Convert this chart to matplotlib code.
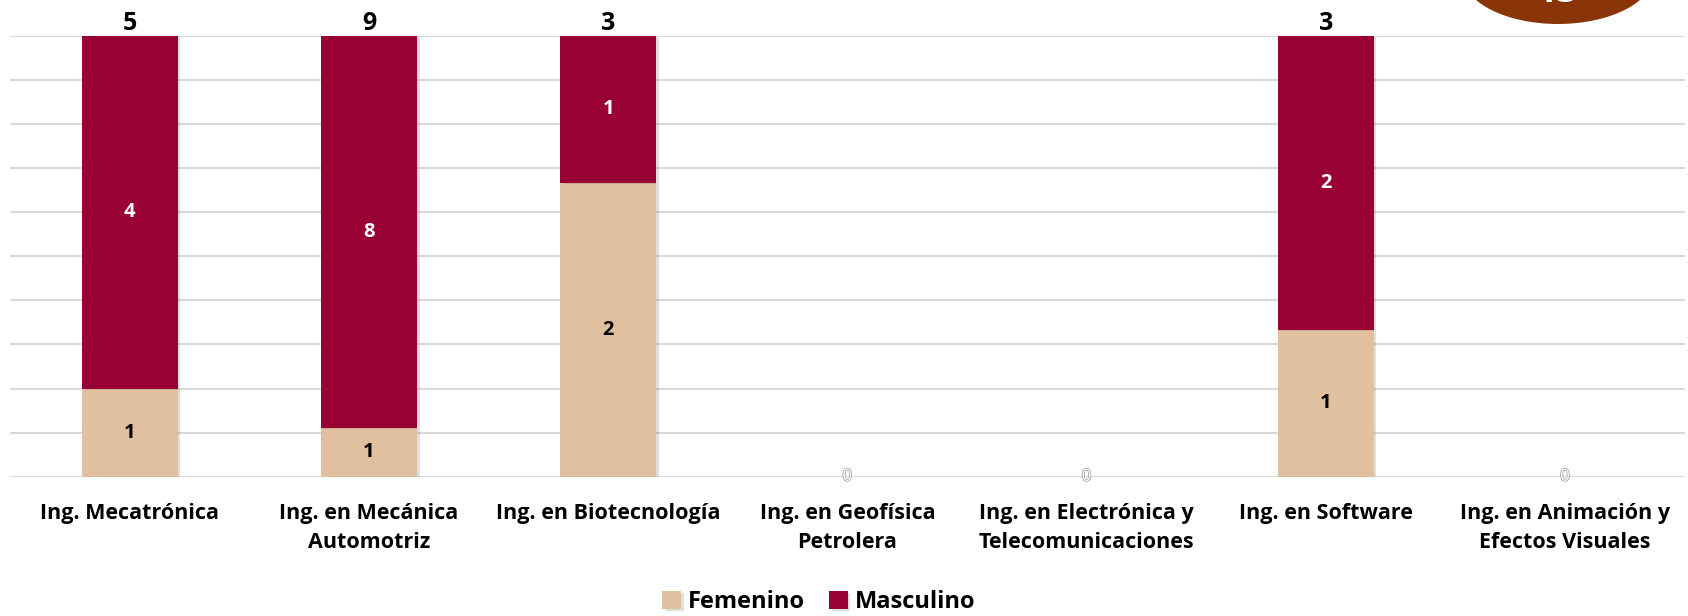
import matplotlib
matplotlib.use("Agg")
import matplotlib.pyplot as plt
import matplotlib.patheffects as pe
from matplotlib.patches import Ellipse
import numpy as np

# datos
carreras = ["Ing. Mecatrónica", "Ing. en Mecánica\nAutomotriz", "Ing. en Biotecnología",
            "Ing. en Geofísica\nPetrolera", "Ing. en Electrónica y\nTelecomunicaciones",
            "Ing. en Software", "Ing. en Animación y\nEfectos Visuales"]
femenino = [1, 1, 2, 0, 0, 1, 0]
masculino = [4, 8, 1, 0, 0, 2, 0]
total_general = "13"

col_fem = "#E0C09F"
col_mas = "#990033"

plt.rcParams['font.family'] = ['Open Sans', 'DejaVu Sans']

fig = plt.figure(figsize=(16.88, 6.16), dpi=100)
ax = fig.add_axes([0.006, 0.226, 0.992, 0.716])

x = np.arange(len(carreras))
fem = np.array(femenino, dtype=float)
mas = np.array(masculino, dtype=float)
tot = fem + mas
# barras 100% apiladas
safe = np.where(tot > 0, tot, 1)
f_frac = np.where(tot > 0, fem / safe, 0)
m_frac = np.where(tot > 0, mas / safe, 0)

sombra = [pe.SimplePatchShadow(offset=(2, -1), alpha=0.25, shadow_rgbFace="#808080"), pe.Normal()]
b1 = ax.bar(x, f_frac, width=0.4, color=col_fem, label="Femenino", zorder=3)
b2 = ax.bar(x, m_frac, width=0.4, bottom=f_frac, color=col_mas, label="Masculino", zorder=3)
for b in list(b1) + list(b2):
    b.set_path_effects(sombra)

for i in range(len(x)):
    if tot[i] == 0:
        ax.text(x[i], 0, "0", ha="center", va="center", fontsize=12, color="white",
                path_effects=[pe.Stroke(linewidth=1.2, foreground="#A6A6A6"), pe.Normal()], zorder=4)
        continue
    if fem[i] > 0:
        ax.text(x[i], f_frac[i] / 2, f"{int(fem[i])}", ha="center", va="center",
                fontsize=14.5, fontweight="bold", color="black", zorder=4)
    if mas[i] > 0:
        ax.text(x[i], f_frac[i] + m_frac[i] / 2, f"{int(mas[i])}", ha="center", va="center",
                fontsize=14.5, fontweight="bold", color="white", zorder=4)
    ax.text(x[i], 1.0, f"{int(tot[i])}", ha="center", va="bottom",
            fontsize=18, fontweight="bold", color="black", zorder=4, linespacing=1.0)

ax.set_xlim(-0.5, len(x) - 0.5)
ax.set_ylim(0, 1)
ax.set_yticks(np.linspace(0, 1, 11))
ax.yaxis.grid(True, color="#D9D9D9", linewidth=1.5, zorder=0)
ax.set_yticklabels([])
ax.tick_params(axis="y", length=0)
ax.set_xticks(x)
ax.set_xticklabels(carreras, fontsize=15.5, fontweight="bold", linespacing=1.5)
ax.tick_params(axis="x", length=0, pad=19)
for s in ax.spines.values():
    s.set_visible(False)

fig.legend(handles=[b1, b2], loc="center", bbox_to_anchor=(0.485, 0.022), ncol=2, frameon=False,
           prop={"size": 17, "weight": "bold"}, handlelength=0.8, handleheight=0.8,
           handletextpad=0.3, columnspacing=1.0)

# circulo del total (recortado arriba a la derecha)
elip = Ellipse((1558 / 1688, 1 + 26 / 616), 192 / 1688, 100 / 616, transform=fig.transFigure,
               facecolor="#8A3508", edgecolor="none", zorder=5)
fig.patches.append(elip)
fig.text(1558 / 1688, 1 - 2 / 616, total_general, ha="center", va="baseline", fontsize=26,
         fontweight="bold", color="white", zorder=6)

fig.savefig("out.png", dpi=100)
